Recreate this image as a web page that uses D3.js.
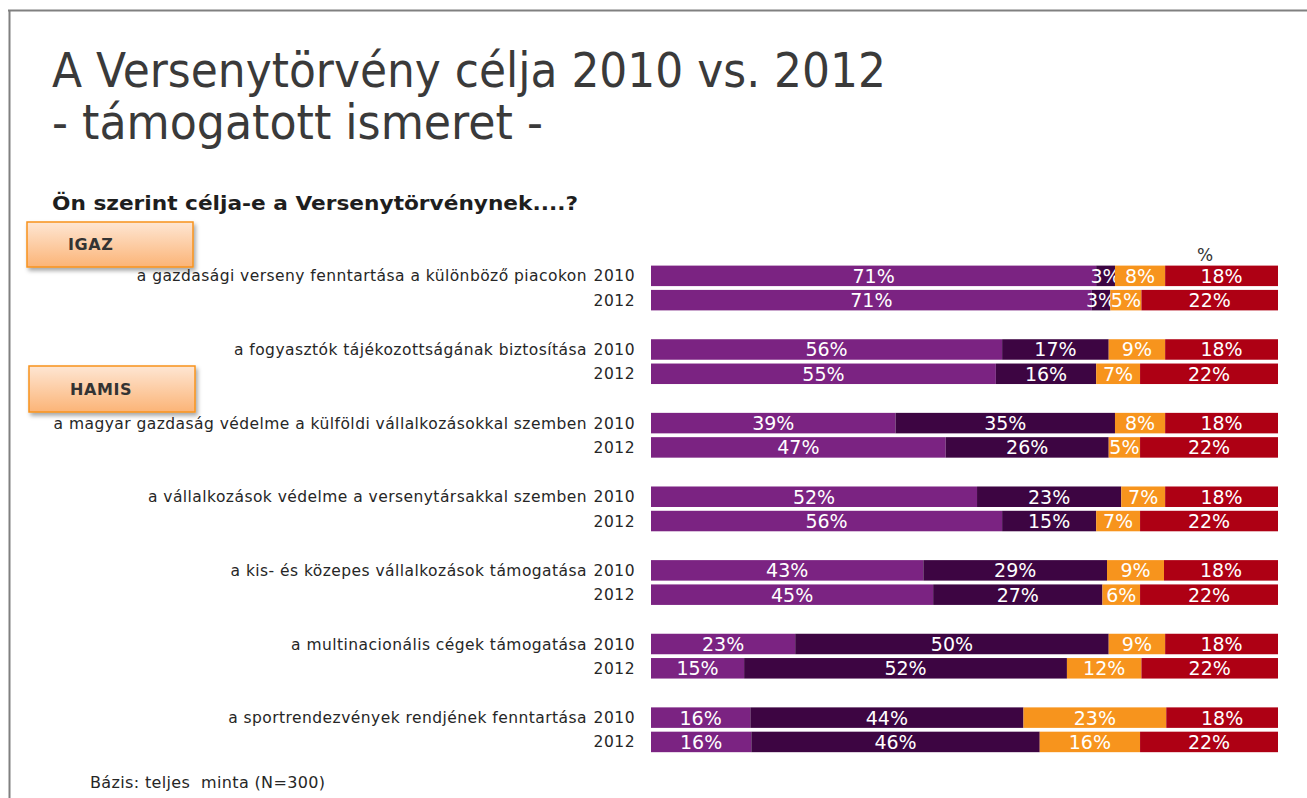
<!DOCTYPE html>
<html>
<head>
<meta charset="utf-8">
<script src="https://cdn.jsdelivr.net/npm/d3@7"></script>
<style>
  html, body { margin: 0; padding: 0; background: #fff; }
  svg { display: block; }
  text { font-family: "DejaVu Sans", Verdana, sans-serif; }
</style>
</head>
<body>
<svg id="chart" width="1307" height="798"></svg>
<script>
// Survey items (question statements)
const categories = [
  "a gazdasági verseny fenntartása a különböző piacokon",
  "a fogyasztók tájékozottságának biztosítása",
  "a magyar gazdaság védelme a külföldi vállalkozásokkal szemben",
  "a vállalkozások védelme a versenytársakkal szemben",
  "a kis- és közepes vállalkozások támogatása",
  "a multinacionális cégek támogatása",
  "a sportrendezvények rendjének fenntartása"
];
const years = ["2010", "2012"];

// Answer shares (%) per item, per year
const igaz2010  = [71, 56, 39, 52, 43, 23, 16];
const hamis2010 = [3, 17, 35, 23, 29, 50, 44];
const nemtud2010 = [8, 9, 8, 7, 9, 9, 23];
const nincs2010 = [18, 18, 18, 18, 18, 18, 18];

const igaz2012  = [71, 55, 47, 56, 45, 15, 16];
const hamis2012 = [3, 16, 26, 15, 27, 52, 46];
const nemtud2012 = [5, 7, 5, 7, 6, 12, 16];
const nincs2012 = [22, 22, 22, 22, 22, 22, 22];

const seriesKeys = ["igaz", "hamis", "nemtud", "nincs"];
const seriesColors = ["#7b2382", "#3d0542", "#f7941d", "#ae0014"];

const rows = [];
categories.forEach((c, i) => {
  rows.push({ cat: c, year: "2010", igaz: igaz2010[i], hamis: hamis2010[i], nemtud: nemtud2010[i], nincs: nincs2010[i] });
  rows.push({ cat: c, year: "2012", igaz: igaz2012[i], hamis: hamis2012[i], nemtud: nemtud2012[i], nincs: nincs2012[i] });
});

const svg = d3.select("#chart");

// slide frame
svg.append("line").attr("x1", 8).attr("x2", 1307).attr("y1", 10.5).attr("y2", 10.5)
  .attr("stroke", "#808080").attr("stroke-width", 2);
svg.append("line").attr("x1", 9.5).attr("x2", 9.5).attr("y1", 10).attr("y2", 798)
  .attr("stroke", "#808080").attr("stroke-width", 2);

// squeeze a text element horizontally to a given width
function fitWidth(sel, w) {
  const node = sel.node();
  const cur = node.getComputedTextLength();
  if (Math.abs(cur - w) > 2) {
    sel.attr("textLength", w).attr("lengthAdjust", "spacingAndGlyphs");
  }
  return sel;
}

// titles
fitWidth(svg.append("text").attr("x", 52).attr("y", 87)
  .attr("font-size", 48).attr("fill", "#3a3a3a")
  .text("A Versenytörvény célja 2010 vs. 2012"), 834);
fitWidth(svg.append("text").attr("x", 52).attr("y", 139)
  .attr("font-size", 48).attr("fill", "#3a3a3a")
  .text("- támogatott ismeret -"), 491);
fitWidth(svg.append("text").attr("x", 52).attr("y", 210)
  .attr("font-size", 19).attr("font-weight", "bold").attr("fill", "#1e1e1e")
  .text("Ön szerint célja-e a Versenytörvénynek....?"), 526);

// callout boxes
const defs = svg.append("defs");
const grad = defs.append("linearGradient").attr("id", "boxGrad")
  .attr("x1", 0).attr("y1", 0).attr("x2", 0).attr("y2", 1);
grad.append("stop").attr("offset", "0%").attr("stop-color", "#fee6d3");
grad.append("stop").attr("offset", "100%").attr("stop-color", "#fbb477");
const shadow = defs.append("filter").attr("id", "boxShadow")
  .attr("x", "-10%").attr("y", "-10%").attr("width", "130%").attr("height", "140%");
shadow.append("feDropShadow").attr("dx", 2).attr("dy", 3).attr("stdDeviation", 2)
  .attr("flood-color", "#000").attr("flood-opacity", 0.35);

const boxes = [
  { label: "IGAZ", x: 27, y: 222, w: 166, h: 45 },
  { label: "HAMIS", x: 29, y: 366, w: 166, h: 46 }
];
boxes.forEach(b => {
  svg.append("rect").attr("x", b.x).attr("y", b.y).attr("width", b.w).attr("height", b.h)
    .attr("fill", "url(#boxGrad)").attr("stroke", "#f7931e").attr("stroke-width", 1.5)
    .attr("filter", "url(#boxShadow)");
  svg.append("text").attr("x", b.x + 41).attr("y", b.y + b.h / 2 + 5.5)
    .attr("font-size", 16).attr("font-weight", "bold").attr("fill", "#333")
    .attr("letter-spacing", 0.6)
    .text(b.label);
});

// scales
const x = d3.scaleLinear().domain([0, 1]).range([651, 1278]);
const yGroup = d3.scaleBand().domain(categories)
  .range([265.6, 265.6 + 6 * 73.63 + 44.8]).paddingInner(1 - 44.8 / 73.63).paddingOuter(0);
const yYear = d3.scaleBand().domain(years).range([0, 44.8]).paddingInner(1 - 20.5 / 24.3).paddingOuter(0);

// stacked bars, each row normalised to its own total
rows.forEach(r => {
  const total = d3.sum(seriesKeys, k => r[k]);
  const y0 = yGroup(r.cat) + yYear(r.year);
  const h = yYear.bandwidth();
  let acc = 0;
  const g = svg.append("g");
  seriesKeys.forEach((k, j) => {
    const a = acc / total, b = (acc + r[k]) / total;
    acc += r[k];
    g.append("rect").attr("x", x(a)).attr("y", y0).attr("width", x(b) - x(a)).attr("height", h)
      .attr("fill", seriesColors[j]);
    g.append("text").attr("x", (x(a) + x(b)) / 2).attr("y", y0 + h / 2 + 7)
      .attr("text-anchor", "middle").attr("font-size", 19).attr("fill", "#fff")
      .text(r[k] + "%");
  });
  // year label
  svg.append("text").attr("x", 635).attr("y", y0 + h / 2 + 5.5)
    .attr("text-anchor", "end").attr("font-size", 15.5).attr("fill", "#262626")
    .attr("letter-spacing", 0.5)
    .text(r.year);
});

// item labels
categories.forEach(c => {
  svg.append("text").attr("x", 587).attr("y", yGroup(c) + yYear("2010") + yYear.bandwidth() / 2 + 5.5)
    .attr("text-anchor", "end").attr("font-size", 15.5).attr("fill", "#262626")
    .attr("letter-spacing", 0.45)
    .text(c);
});

// unit marker
svg.append("text").attr("x", 1205).attr("y", 261).attr("text-anchor", "middle")
  .attr("font-size", 17).attr("fill", "#333").text("%");

// base note
svg.append("text").attr("x", 90).attr("y", 788).attr("font-size", 16).attr("fill", "#262626")
  .attr("letter-spacing", 0.35)
  .style("white-space", "pre").text("Bázis: teljes  minta (N=300)");
</script>
</body>
</html>
